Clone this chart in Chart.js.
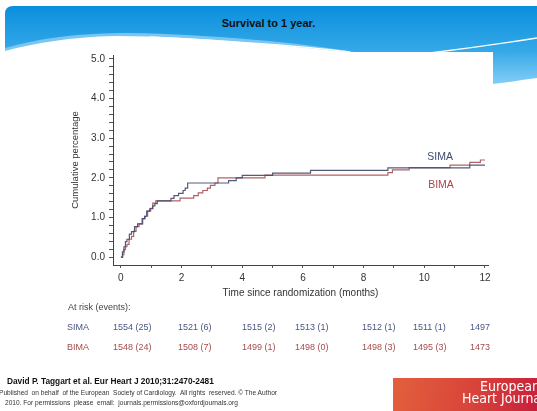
<!DOCTYPE html>
<html>
<head>
<meta charset="utf-8">
<script src="https://cdn.jsdelivr.net/npm/chart.js@4.4.1/dist/chart.umd.min.js"></script>
<style>
  body { margin: 0; width: 537px; height: 411px; position: relative; overflow: hidden; background: #fff;
         font-family: "Liberation Sans", Arial, sans-serif; }
  .abs { position: absolute; white-space: nowrap; }
  #title { left: 0; width: 537px; top: 17px; text-align: center; font-weight: bold; font-size: 11px; color: #111; }
  .risk { font-size: 9px; line-height: 11px; }
  .cite1 { left: 7px; top: 376px; font-size: 8.3px; font-weight: bold; color: #111; }
  .cite2 { font-size: 6.6px; color: #333; }
  #logo { left: 393px; top: 378px; width: 144px; height: 33px; overflow: hidden;
          background: linear-gradient(100deg, #e2603c 0%, #d8443a 55%, #c81f3a 100%); }
  #logo span { position: absolute; color: #fff; font-family: "Liberation Sans Narrow", "DejaVu Sans Condensed", sans-serif;
               font-size: 14px; line-height: 13px; white-space: nowrap; }
</style>
</head>
<body>
<svg class="abs" width="537" height="411" style="left:0;top:0">
  <defs>
    <linearGradient id="hb" x1="0" y1="0" x2="0" y2="1">
      <stop offset="0" stop-color="#0a8fdd"/>
      <stop offset="0.55" stop-color="#35a9e8"/>
      <stop offset="1" stop-color="#8dd2f7"/>
    </linearGradient>
  </defs>
  <path d="M5,88 L5,14 Q5,6 13,6 L537,6 L537,78 C520,80 505,83 493,84 L5,88 Z" fill="url(#hb)"/>
  <path d="M5,48 C40,38 80,33 130,33 C200,34 300,42 360,53 L5,53 Z" fill="#7ac6f1"/>
  <path d="M5,411 L5,51 C35,43 70,37 115,36 C190,36 280,45 345,52 L493,52 L493,411 Z" fill="#fff"/>
  <path d="M150,37 C230,41 310,47 350,52" stroke="#fff" stroke-width="1.3" fill="none"/>
  <path d="M430,53 C470,48 505,43 537,38" stroke="#fff" stroke-width="1.3" fill="none"/>
</svg>
<div id="title" class="abs">Survival to 1 year.</div>
<canvas id="chart" class="abs" width="537" height="411" style="left:0;top:0"></canvas>
<div id="risk"></div>
<div class="abs cite1">David P. Taggart et al. Eur Heart J 2010;31:2470-2481</div>
<div class="abs cite2" style="left:-1px;top:389px">Published&nbsp; on behalf&nbsp; of the European&nbsp; Society of Cardiology.&nbsp; All rights&nbsp; reserved. © The Author</div>
<div class="abs cite2" style="left:5px;top:399px">2010. For permissions&nbsp; please&nbsp; email:&nbsp; journals.permissions@oxfordjournals.org</div>
<div id="logo" class="abs"><span style="left:87px;top:2px">European</span><span style="left:69px;top:14px">Heart Journal</span></div>

<script>
// Kaplan-Meier style cumulative event curves
const simaMonths = [0, 0.05, 0.1, 0.15, 0.2, 0.28, 0.35, 0.45, 0.55, 0.7, 0.78, 0.85, 0.95, 1.05, 1.12, 1.2,
                    1.65, 1.75, 1.9, 2.05, 2.12, 2.2, 3.55, 3.8, 4.0, 5.0, 6.25, 8.8, 11.5, 12.0];
const simaValues = [0, 0.13, 0.26, 0.39, 0.45, 0.58, 0.64, 0.77, 0.84, 0.97, 1.03, 1.16, 1.22, 1.29, 1.35, 1.42,
                    1.48, 1.55, 1.61, 1.68, 1.74, 1.87, 1.93, 2.0, 2.06, 2.12, 2.19, 2.25, 2.32, 2.32];
const bimaMonths = [0, 0.06, 0.1, 0.15, 0.2, 0.27, 0.35, 0.42, 0.5, 0.6, 0.72, 0.8, 0.88, 0.98, 1.05, 1.15,
                    1.95, 2.4, 2.55, 2.7, 2.85, 2.95, 3.1, 3.2, 4.75, 8.8, 8.95, 9.5, 10.85, 11.5, 11.85, 12.0];
const bimaValues = [0, 0.06, 0.19, 0.26, 0.32, 0.45, 0.52, 0.65, 0.77, 0.84, 0.97, 1.03, 1.16, 1.23, 1.36, 1.42,
                    1.49, 1.55, 1.62, 1.68, 1.74, 1.81, 1.87, 2.0, 2.07, 2.13, 2.2, 2.26, 2.32, 2.39, 2.45, 2.45];

const monthTicks = [0, 1, 2, 3, 4, 5, 6, 7, 8, 9, 10, 11, 12];
const yMajorTicks = [0, 1, 2, 3, 4, 5];

// at-risk table
const simaAtRisk = [1554, 1521, 1515, 1513, 1512, 1511, 1497];
const simaEvents = [25, 6, 2, 1, 1, 1, null];
const bimaAtRisk = [1548, 1508, 1499, 1498, 1498, 1495, 1473];
const bimaEvents = [24, 7, 1, 0, 3, 3, null];

const SIMA_COLOR = 'rgba(62, 74, 108, 0.9)';
const BIMA_COLOR = 'rgba(168, 82, 88, 0.9)';
const FONT = '"Liberation Sans", Arial, sans-serif';

// minor ticks every 0.2
const yTicks = [];
yMajorTicks.forEach((v, i) => {
  yTicks.push(v);
  if (i < yMajorTicks.length - 1) for (let k = 1; k < 5; k++) yTicks.push(+(v + k * 0.2).toFixed(1));
});

const toPoints = (xs, ys) => xs.map((m, i) => ({ x: m, y: ys[i] }));

const seriesLabels = {
  id: 'seriesLabels',
  afterDatasetsDraw(chart) {
    const { ctx, scales: { x, y } } = chart;
    ctx.save();
    ctx.font = '10.5px ' + FONT;
    ctx.textAlign = 'center';
    ctx.textBaseline = 'middle';
    ctx.fillStyle = '#3c4a6c';
    ctx.fillText('SIMA', x.getPixelForValue(10.52), y.getPixelForValue(2.52));
    ctx.fillStyle = '#a8464b';
    ctx.fillText('BIMA', x.getPixelForValue(10.55), y.getPixelForValue(1.82));
    ctx.restore();
  }
};

new Chart(document.getElementById('chart'), {
  type: 'line',
  data: {
    datasets: [
      {
        label: 'SIMA',
        data: toPoints(simaMonths, simaValues),
        borderColor: SIMA_COLOR,
        borderWidth: 1.2,
        pointRadius: 0,
        stepped: true,
        fill: false,
      },
      {
        label: 'BIMA',
        data: toPoints(bimaMonths, bimaValues),
        borderColor: BIMA_COLOR,
        borderWidth: 1.2,
        pointRadius: 0,
        stepped: true,
        fill: false,
      }
    ]
  },
  options: {
    responsive: false,
    animation: false,
    devicePixelRatio: 1,
    layout: { padding: { left: 66, top: 55, right: 49, bottom: 108 } },
    plugins: {
      legend: { display: false },
      tooltip: { enabled: false },
    },
    scales: {
      x: {
        type: 'linear',
        min: -0.26,
        max: 12.1,
        afterBuildTicks: s => { s.ticks = monthTicks.map(v => ({ value: v })); },
        afterFit: s => { s.height = 38; },
        grid: { drawOnChartArea: false, tickLength: 3, color: '#555' },
        border: { color: '#444', width: 1 },
        ticks: {
          autoSkip: false,
          maxRotation: 0,
          padding: 4,
          color: '#333',
          font: { size: 10, family: FONT },
          callback: v => (v % 2 === 0 ? String(v) : ''),
        },
        title: {
          display: true,
          text: 'Time since randomization (months)',
          color: '#333',
          font: { size: 10, family: FONT },
          padding: { top: 0, bottom: 4 },
        },
      },
      y: {
        min: -0.2,
        max: 5.1,
        afterBuildTicks: s => { s.ticks = yTicks.map(v => ({ value: v })); },
        afterFit: s => { s.width = 47; },
        grid: { drawOnChartArea: false, tickLength: 4, color: '#555' },
        border: { color: '#444', width: 1 },
        ticks: {
          autoSkip: false,
          padding: 4,
          color: '#333',
          font: { size: 10, family: FONT },
          callback: v => (Math.abs(v - Math.round(v)) < 1e-6 ? v.toFixed(1) : ''),
        },
        title: {
          display: true,
          text: 'Cumulative percentage',
          color: '#333',
          font: { size: 9.5, family: FONT },
          padding: { top: 4, bottom: 0 },
        },
      },
    },
  },
  plugins: [seriesLabels],
});

// at-risk table under the axis
const riskCols = [113, 178, 242, 295, 362, 413, 470];
const risk = document.getElementById('risk');
function addText(txt, left, top, color) {
  const d = document.createElement('div');
  d.className = 'abs risk';
  d.style.left = left + 'px';
  d.style.top = top + 'px';
  d.style.color = color;
  d.textContent = txt;
  risk.appendChild(d);
}
addText('At risk (events):', 68, 302, '#444');
[['SIMA', simaAtRisk, simaEvents, '#4a5682', 322], ['BIMA', bimaAtRisk, bimaEvents, '#a64a4c', 342]]
  .forEach(([name, n, ev, color, top]) => {
    addText(name, 67, top, color);
    n.forEach((v, i) => addText(ev[i] === null ? String(v) : v + ' (' + ev[i] + ')', riskCols[i], top, color));
  });
</script>
</body>
</html>
